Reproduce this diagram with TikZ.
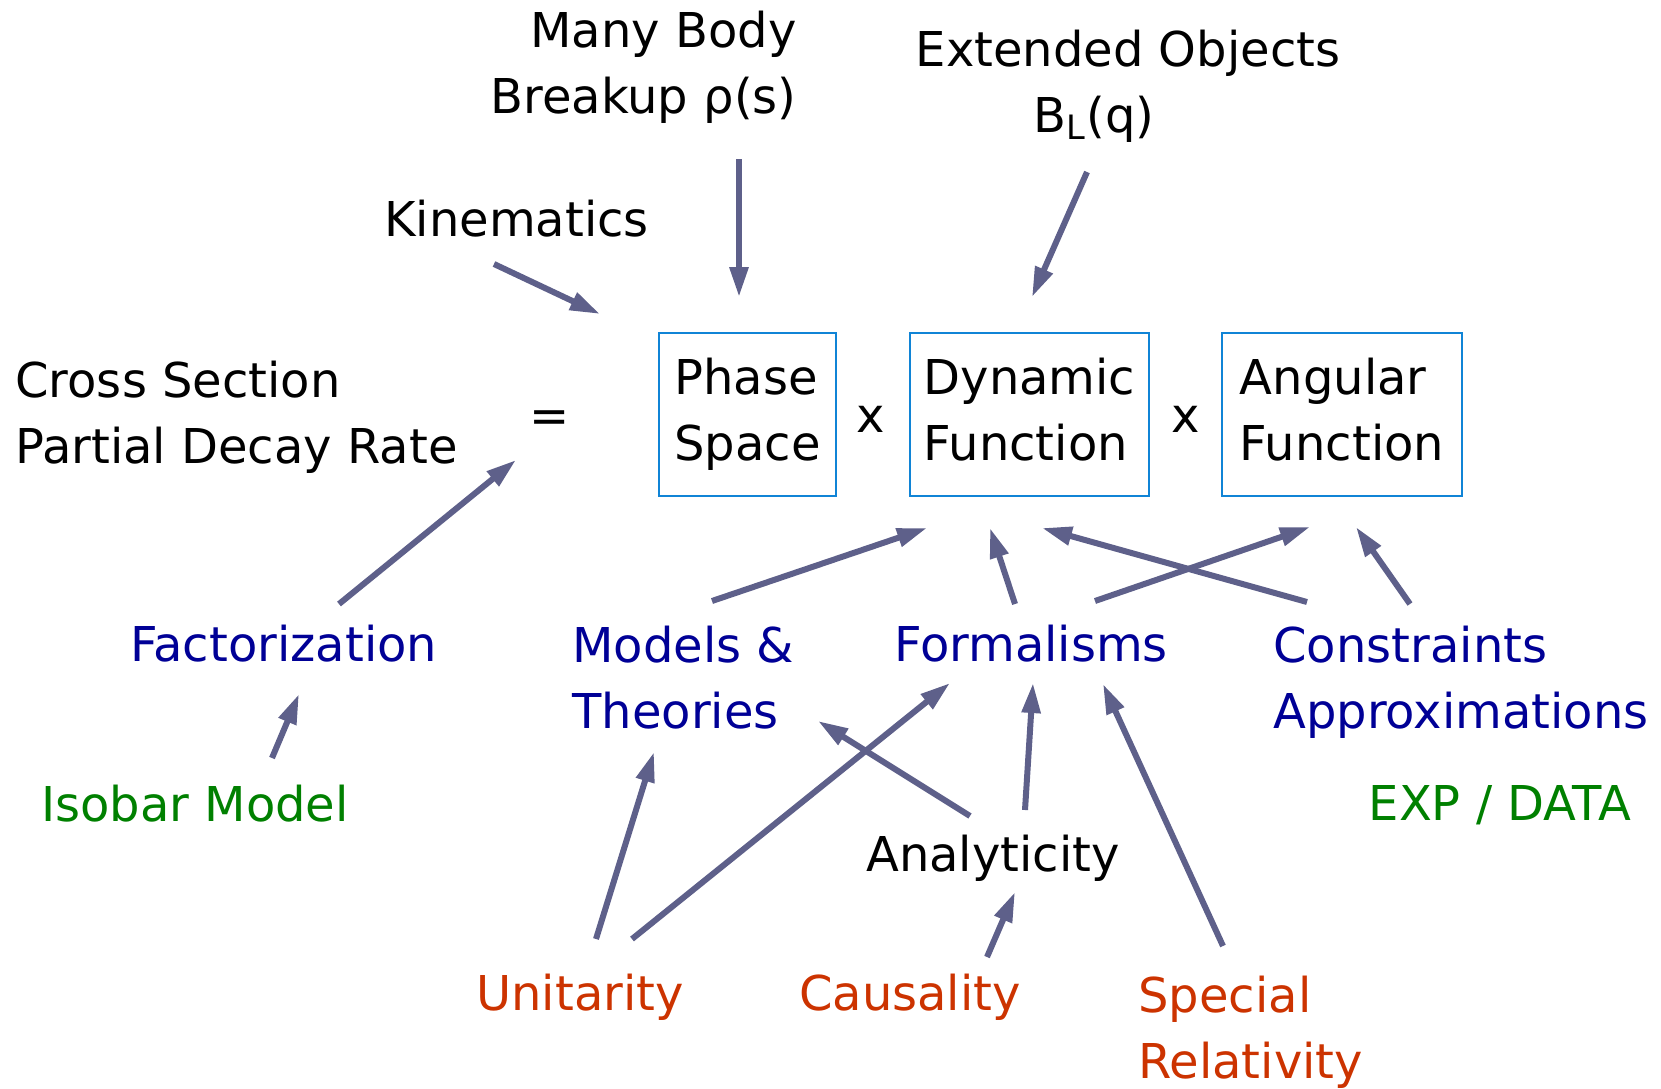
\documentclass[tikz,border=0pt]{standalone}
\usepackage{fontspec}
\setmainfont{DejaVu Sans}
\usetikzlibrary{arrows.meta,positioning}

\definecolor{arrowgray}{RGB}{94,96,138}
\definecolor{boxblue}{RGB}{16,132,214}
\definecolor{termblue}{RGB}{0,0,150}
\definecolor{termgreen}{RGB}{0,128,0}
\definecolor{termred}{RGB}{204,51,0}

\begin{document}
\begin{tikzpicture}[x=0.5pt,y=-0.5pt,
					txt/.style={font=\fontsize{24}{33}\selectfont,
					inner sep=0pt},
					factorbox/.style={rectangle,
					txt,
					align=left,
					line width=1pt,
					draw=boxblue,
					minimum height=81.5pt},
					bluetxt/.style={txt, text=termblue},
					greentxt/.style={txt, text=termgreen},
					redtxt/.style={txt, text=termred},
					arr/.style={draw=arrowgray,
					line width=3pt,
					-{Triangle[length=15pt,width=9pt]}}
					]

% page size of the slide
\useasboundingbox (0,0) rectangle (1661,1088);

% top labels
\node[txt, align=right, anchor=east] (manybody) at (797,67) {Many Body\\Breakup ρ(s)};
\node[txt, align=center] (extended) at (1128,86) {Extended Objects\\B\textsubscript{L}(q)\hspace*{34pt}};
\node[txt] (kin) at (516.5,219) {Kinematics};

% the product
\node[txt, align=left, anchor=west] (xsec) at (15,417) {Cross Section\\Partial Decay Rate};
\node[txt] (eq) at (550,421.5) {=};
\node[factorbox, minimum width=88.5pt] (phase) at (747.5,414.5) {Phase\\Space};
\node[factorbox, minimum width=119.5pt] (dyn) [right of = phase, node distance=141pt] {Dynamic\\Function\vphantom{p}};
\node[factorbox, minimum width=120pt] (ang) [right of = dyn, node distance=156.25pt] {Angular\\Function\vphantom{p}};
\node[txt] (times1) at (871,419) {x};
\node[txt] (times2) at (1186,419) {x};

% ingredients
\node[bluetxt] (fact) at (283.7,644) {Factorization};
\node[bluetxt, align=left, anchor=west] (models) at (572,678) {Models \&\\Theories};
\node[bluetxt] (formal) at (1031,644) {Formalisms};
\node[bluetxt, align=left, anchor=west] (constr) at (1273,682) {Constraints\\Approximations};
\node[greentxt] (isobar) at (195,804) {Isobar Model};
\node[greentxt] (expdata) at (1500,805) {EXP / DATA};
\node[txt] (analy) at (993,858) {Analyticity};

% principles
\node[redtxt] (uni) at (580,997) {Unitarity};
\node[redtxt] (caus) at (910,997) {Causality};
\node[redtxt, align=left, anchor=west] (special) at (1138,1032) {Special\\Relativity};

% Arrows
\draw[arr] ([shift={(-22.5,45)}]kin.center) -- ([shift={(-147.5,-100.5)}]phase.center);
\draw[arr] ([shift={(-58,92)}]manybody.east) -- ([shift={(-8.5,-117.5)}]phase.center);
\draw[arr] ([shift={(-41,86)}]extended.center) -- ([shift={(2.5,-117.5)}]dyn.center);
\draw[arr] ([shift={(55.3,-40)}]fact.center) -- ([shift={(-34,38.5)}]eq.center);

\draw[arr] ([shift={(140,-77)}]models.west) -- ([shift={(-102.5,113.5)}]dyn.center);
\draw[arr] ([shift={(-16,-40)}]formal.center) -- ([shift={(-39.5,113.5)}]dyn.center);
\draw[arr] ([shift={(34,-80)}]constr.west) -- ([shift={(12.5,113.5)}]dyn.center);
\draw[arr] ([shift={(64,-43)}]formal.center) -- ([shift={(-32,112.5)}]ang.center);
\draw[arr] ([shift={(137,-78)}]constr.west) -- ([shift={(14,112.5)}]ang.center);

\draw[arr] ([shift={(77,-46)}]isobar.center) -- ([shift={(15.3,50)}]fact.center);
\draw[arr] ([shift={(16,-58)}]uni.center) -- ([shift={(82,74)}]models.west);
\draw[arr] ([shift={(52,-58)}]uni.center) -- ([shift={(-81,39)}]formal.center);
\draw[arr] ([shift={(-23,-42)}]analy.center) -- ([shift={(246,43)}]models.west);
\draw[arr] ([shift={(32,-48)}]analy.center) -- ([shift={(2,39)}]formal.center);
\draw[arr] ([shift={(77,-40)}]caus.center) -- ([shift={(22,34)}]analy.center);
\draw[arr] ([shift={(85,-86)}]special.west) -- ([shift={(72,40)}]formal.center);

\end{tikzpicture}
\end{document}
